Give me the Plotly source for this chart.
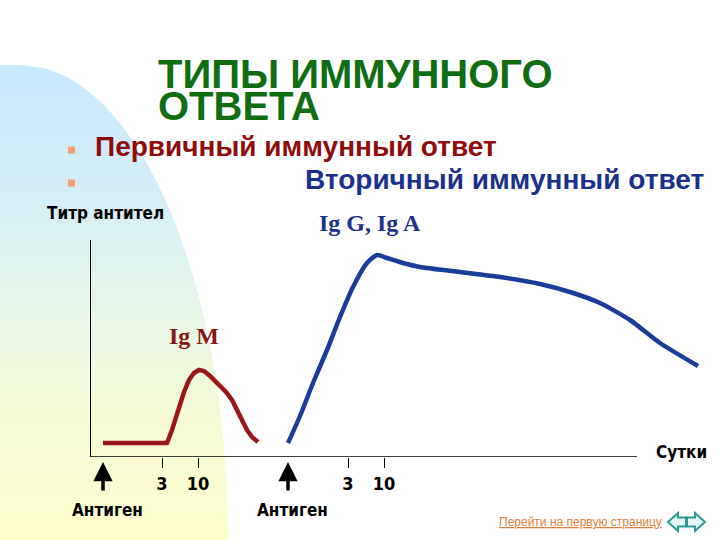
"""Типы иммунного ответа: первичный (IgM) и вторичный (IgG, IgA)."""

import numpy as np
import plotly.graph_objects as go

W, H = 720, 540

# Схематичная шкала: x - время (усл. ед.), y - титр антител (усл. ед.)
PRIMARY_X = [12, 76, 81, 87, 93, 98, 103, 108, 113, 119, 127, 135, 141, 146,
             151, 156, 161, 167]
PRIMARY_Y = [14, 14, 27, 47, 65, 77, 84, 87, 86, 81, 73, 65, 57, 47, 36, 27, 20, 15]
SECONDARY_X = [197, 209, 222, 236, 249, 262, 276, 286, 296, 312, 329, 369,
               409, 449, 479, 509, 539, 569, 607]
SECONDARY_Y = [14, 41, 74, 107, 140, 170, 194, 202, 199, 194, 190, 185,
               180, 173, 165, 154, 137, 114, 91]
TICK_VALS = [71, 107, 257, 293]
TICK_TEXT = ["3", "10", "3", "10"]
ANTIGEN_X = [12, 197]
AXIS_END_X = 546

X_RANGE = [0, 614]
Y_RANGE = [0, 217]
PLOT_PX = (91, 705, 240, 457)  # left, right, top, bottom

GREEN = "#0f6e12"
RED = "#8e0c0c"
BLUE = "#1c318c"
CURVE_RED = "#9a1818"
CURVE_BLUE = "#1a3d9c"
TEAL = "#2a9a92"
NARROW = "DejaVu Sans Condensed"
SANS = "Liberation Sans, Arial, sans-serif"
SERIF = "Liberation Serif, Times New Roman, serif"


def px(x):
    return x / W


def py(y):
    return 1 - y / H


def dx(x):
    """data x -> pixel x"""
    left, right = PLOT_PX[0], PLOT_PX[1]
    return left + (x - X_RANGE[0]) / (X_RANGE[1] - X_RANGE[0]) * (right - left)


def mix(c1, c2, t):
    a = [int(c1[i:i + 2], 16) for i in (1, 3, 5)]
    b = [int(c2[i:i + 2], 16) for i in (1, 3, 5)]
    return "#" + "".join(f"{round(p + (q - p) * t):02x}" for p, q in zip(a, b))


GRAD = [(65, "#c8e8fc"), (200, "#d6eef6"), (295, "#e4f5ea"), (415, "#f6fbd6"), (540, "#ffffcc")]


def grad_color(y):
    for (y0, c0), (y1, c1) in zip(GRAD, GRAD[1:]):
        if y <= y1:
            return mix(c0, c1, max(0.0, (y - y0) / (y1 - y0)))
    return GRAD[-1][1]


def ellipse_x(y, cx=20, cy=540, rx=208, ry=475):
    v = 1 - ((cy - y) / ry) ** 2
    return cx + rx * np.sqrt(max(v, 0.0))


def poly(points):
    return "M " + " L ".join(f"{px(x):.5f},{py(y):.5f}" for x, y in points) + " Z"


shapes = []
edges = np.linspace(65, 540, 60)
for y0, y1 in zip(edges[:-1], edges[1:]):
    ys = np.linspace(y0, y1 + 1, 4)
    pts = [(0, y0)] + [(ellipse_x(y), y) for y in ys] + [(0, y1 + 1)]
    shapes.append(dict(type="path", path=poly(pts), xref="paper", yref="paper",
                       fillcolor=grad_color((y0 + y1) / 2), line=dict(width=0),
                       layer="below"))

# ось времени (обрывается раньше кривой)
shapes.append(dict(type="line", xref="x", yref="y", x0=0, x1=AXIS_END_X, y0=0, y1=0,
                   line=dict(color="black", width=1.5)))

# маркеры списка
for yb in (150, 183):
    shapes.append(dict(type="rect", xref="paper", yref="paper",
                       x0=px(68), x1=px(75), y0=py(yb + 3.5), y1=py(yb - 3.5),
                       fillcolor="#f4a070", line=dict(width=0)))

# кнопки навигации
left_arrow = [(668, 522), (678, 513), (678, 517.5), (686, 517.5), (686, 526.5),
              (678, 526.5), (678, 531)]
right_arrow = [(2 * 686.5 - x, y) for x, y in left_arrow]
for arrow in (left_arrow, right_arrow):
    shapes.append(dict(type="path", path=poly(arrow), xref="paper", yref="paper",
                       fillcolor="rgba(220,240,238,0.6)", line=dict(color=TEAL, width=2)))

fig = go.Figure()
fig.add_trace(go.Scatter(x=PRIMARY_X, y=PRIMARY_Y, mode="lines",
                         line=dict(color=CURVE_RED, width=4.5),
                         hoverinfo="skip"))
fig.add_trace(go.Scatter(x=SECONDARY_X, y=SECONDARY_Y, mode="lines",
                         line=dict(color=CURVE_BLUE, width=4.5, shape="spline", smoothing=0.6),
                         hoverinfo="skip"))

annotations = [
    dict(text="<b>ТИПЫ ИММУННОГО</b>", x=px(156), y=py(74), xanchor="left", height=30,
         font=dict(family=SANS, size=40, color=GREEN)),
    dict(text="<b>ОТВЕТА</b>", x=px(156), y=py(106), xanchor="left", height=30,
         font=dict(family=SANS, size=40, color=GREEN)),
    dict(text="<b>Первичный иммунный ответ</b>", x=px(93), y=py(147), xanchor="left",
         font=dict(family=SANS, size=28, color=RED)),
    dict(text="<b>Вторичный иммунный ответ</b>", x=px(303), y=py(180), xanchor="left",
         font=dict(family=SANS, size=28, color=BLUE)),
    dict(text="<b>Титр антител</b>", x=px(45), y=py(213), xanchor="left",
         font=dict(family=NARROW, size=17, color="black")),
    dict(text="<b>Ig G, Ig A</b>", x=px(317), y=py(223), xanchor="left",
         font=dict(family=SERIF, size=24, color=BLUE)),
    dict(text="<b>Ig M</b>", x=px(167), y=py(336), xanchor="left",
         font=dict(family=SERIF, size=24, color="#8a1515")),
    dict(text="<b>Сутки</b>", x=px(654), y=py(452), xanchor="left",
         font=dict(family=NARROW, size=17, color="black")),
    dict(text="<u>Перейти на первую страницу</u>", x=px(497), y=py(522), xanchor="left",
         font=dict(family=SANS, size=12, color="#e0803a")),
]
for xa in ANTIGEN_X:
    annotations.append(dict(text="", x=dx(xa) / W, y=py(462), ax=0, ay=30,
                            axref="pixel", ayref="pixel",
                            showarrow=True, arrowhead=2, arrowsize=1.1, arrowwidth=3.5,
                            arrowcolor="black"))
    annotations.append(dict(text="<b>Антиген</b>", x=dx(xa) / W + px(4), y=py(510),
                            xanchor="center",
                            font=dict(family=NARROW, size=17, color="black")))
for a in annotations:
    a.setdefault("xref", "paper")
    a.setdefault("yref", "paper")
    a.setdefault("yanchor", "middle")
    a.setdefault("showarrow", False)

fig.update_layout(
    width=W, height=H,
    margin=dict(l=0, r=0, t=0, b=0),
    paper_bgcolor="white",
    plot_bgcolor="rgba(0,0,0,0)",
    showlegend=False,
    shapes=shapes,
    annotations=annotations,
    xaxis=dict(domain=[px(PLOT_PX[0]), px(PLOT_PX[1])], range=X_RANGE,
               showgrid=False, zeroline=False, showline=False,
               tickmode="array", tickvals=TICK_VALS, ticktext=TICK_TEXT,
               ticks="outside", ticklen=10, tickwidth=1.2, tickcolor="black",
               tickfont=dict(family=NARROW, size=18, color="black", weight="bold")),
    yaxis=dict(domain=[py(PLOT_PX[3]), py(PLOT_PX[2])], range=Y_RANGE,
               showgrid=False, zeroline=False, showline=True, linecolor="black",
               linewidth=1.2, showticklabels=False, ticks=""),
)

fig.write_html("out.html", config={"displayModeBar": False},
               post_script="document.body.style.margin = '0';")
